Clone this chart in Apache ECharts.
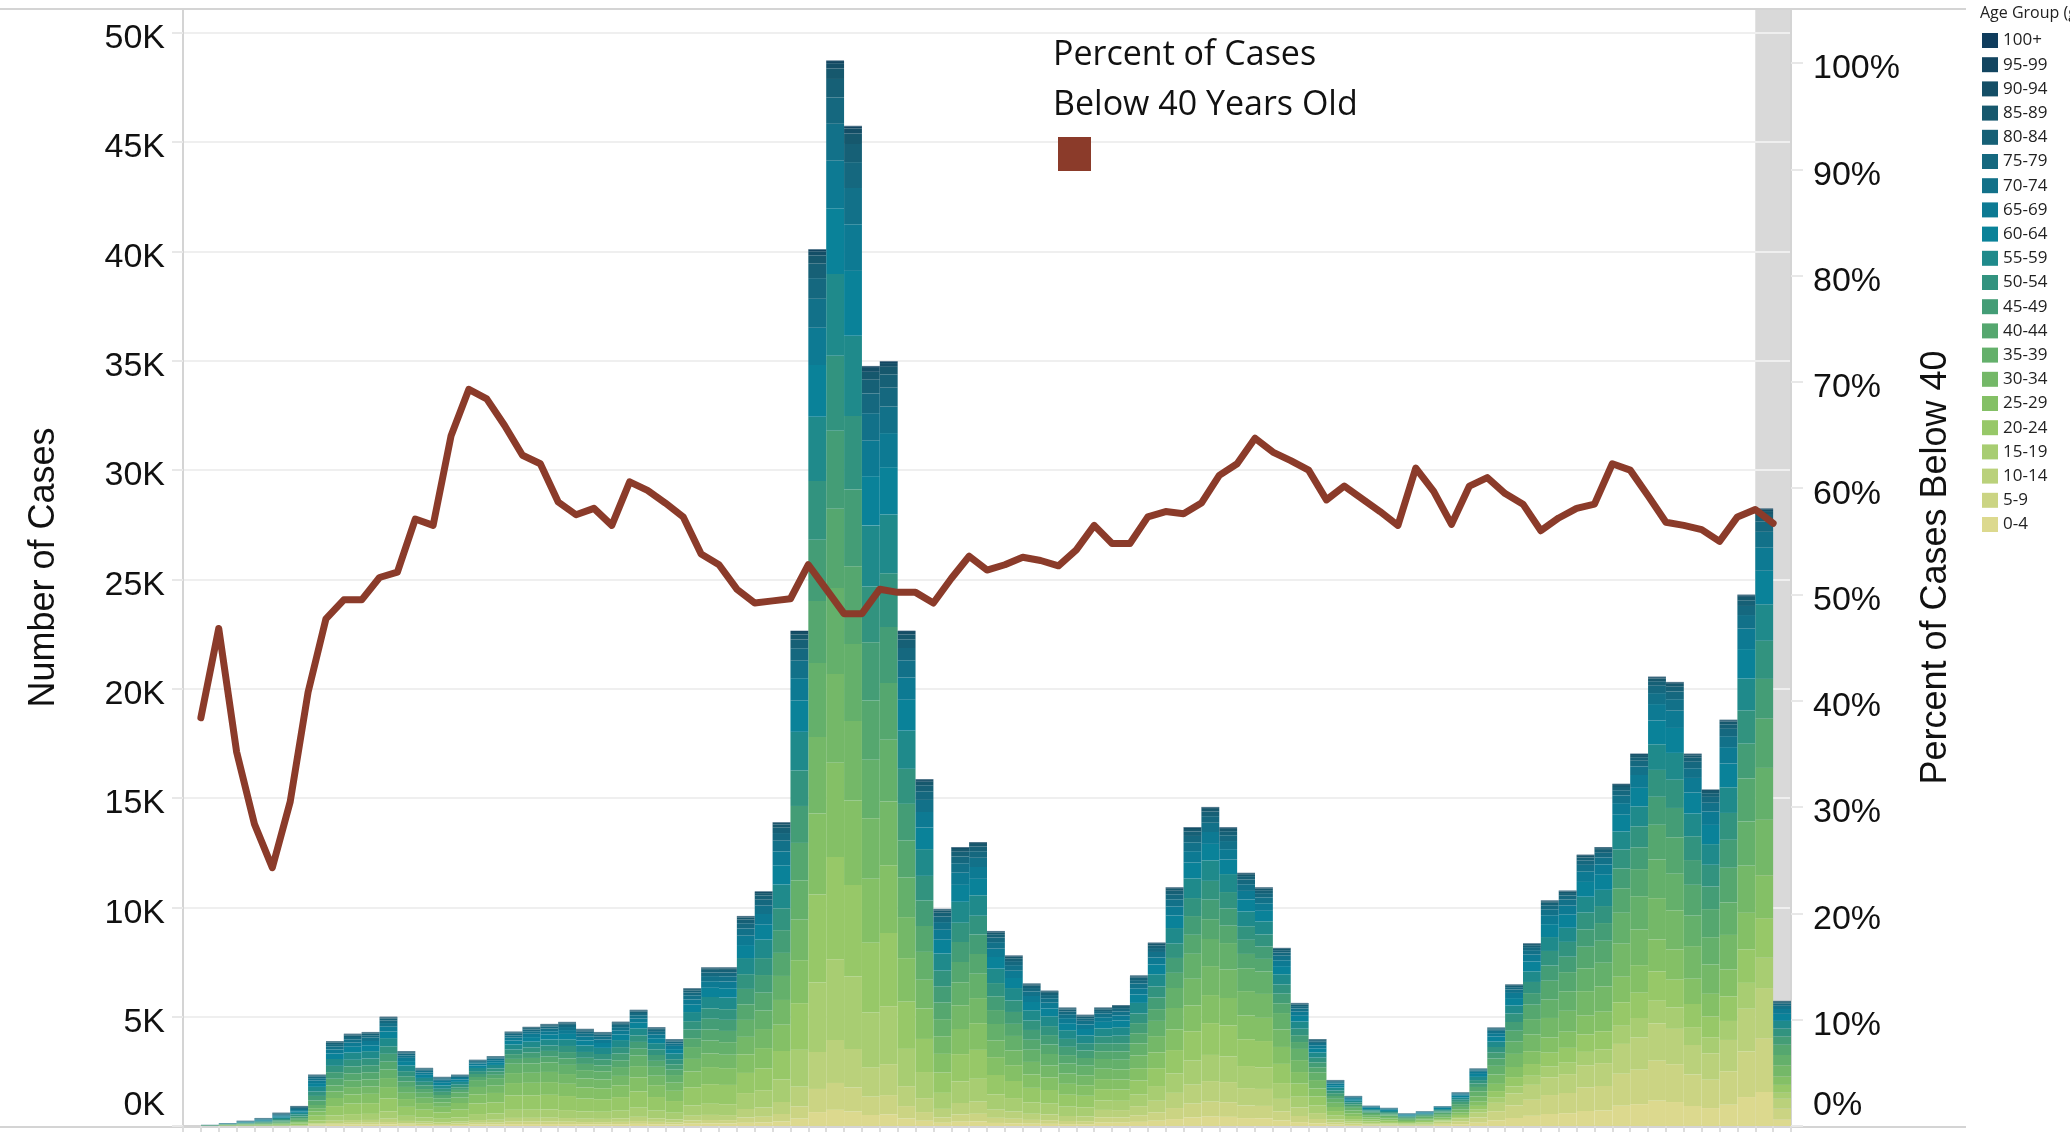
<!DOCTYPE html>
<html><head><meta charset="utf-8">
<script src="https://cdn.jsdelivr.net/npm/echarts@6/dist/echarts.min.js"></script>
<style>html,body{margin:0;padding:0;background:#fff}#c{width:2070px;height:1134px}</style>
</head><body><div id="c"></div>
<script>
// ---------- DATA ----------
const weeks = ['W1','W2','W3','W4','W5','W6','W7','W8','W9','W10','W11','W12','W13','W14','W15','W16','W17','W18','W19','W20',
'W21','W22','W23','W24','W25','W26','W27','W28','W29','W30','W31','W32','W33','W34','W35','W36','W37','W38','W39','W40',
'W41','W42','W43','W44','W45','W46','W47','W48','W49','W50','W51','W52','W53','W54','W55','W56','W57','W58','W59','W60',
'W61','W62','W63','W64','W65','W66','W67','W68','W69','W70','W71','W72','W73','W74','W75','W76','W77','W78','W79','W80',
'W81','W82','W83','W84','W85','W86','W87','W88','W89','W90'];
const ageGroups = ['0-4','5-9','10-14','15-19','20-24','25-29','30-34','35-39','40-44','45-49','50-54','55-59','60-64','65-69','70-74','75-79','80-84','85-89','90-94','95-99','100+'];
const ageColors = ['#dcd98e','#cbd483','#bad17b','#a8cd72','#97c868','#84c066','#74b868','#64b06b','#55a76f','#449d76','#32937f','#1f8a8b','#0a8299','#0d7a93','#127189','#15687f','#166076','#16586d','#144e66','#124560','#0f3d5d'];

const age0_4 = [0, 0,1,2,2,3,6, 29,56,63,64,77,54,46,38,46,63,66,85,86,87,84,77,75,81,97,81,70,108,117,115, 146,158,206,337,635,738,661,503,530,341,239,147,197,209,140,124,105,99,86,83, 153,152,189,240,316,394,428,418,361,353,258,176,123,62,42,27,24,16,21, 52,83,151,261,366,464,549,585,685,709,926,998,1158,1096,914,820,971,1323,1556,308];
const age5_9 = [0, 1,2,3,3,4,8, 38,74,84,85,103,71,61,51,61,84,88,114,114,116,112,102,100,108,129,108,93,144,156,153, 243,264,343,562,1059,1230,1102,838,883,569,398,244,329,348,233,206,174,165,143,138, 245,242,302,385,505,630,684,669,577,565,413,282,196,99,66,44,38,26,34, 81,131,238,413,578,733,867,924,1082,1120,1463,1576,1828,1730,1443,1295,1533,2089,2457,487];
const age10_14 = [0, 1,3,3,4,6,11, 58,111,125,128,155,107,91,76,92,126,131,171,172,175,168,153,150,162,193,162,140,217,234,230, 388,422,549,899,1694,1969,1764,1340,1413,910,637,391,526,557,373,329,279,263,228,221, 337,333,415,529,694,866,941,920,794,777,568,388,270,137,91,60,53,36,46, 76,122,222,385,540,684,809,862,1009,1045,1365,1471,1706,1615,1347,1209,1431,1949,2293,454];
const age15_19 = [0, 2,5,7,8,12,22, 125,241,272,277,335,232,197,165,198,273,285,370,372,378,363,332,325,350,419,352,303,469,508,498, 728,792,1029,1685,3176,3691,3307,2513,2650,1706,1194,733,986,1044,700,618,523,494,428,414, 429,424,529,673,884,1102,1197,1171,1010,989,723,493,344,174,116,77,67,46,59, 46,74,135,234,328,415,491,524,613,635,829,893,1036,981,818,734,869,1184,1392,276];
const age20_24 = [0, 4,13,18,22,31,59, 221,427,480,490,593,411,349,292,351,483,503,655,658,669,643,588,575,620,741,622,536,830,898,882, 922,1003,1304,2134,4023,4676,4189,3183,3356,2160,1513,928,1248,1323,886,782,663,626,543,524, 521,515,642,817,1073,1339,1454,1422,1226,1201,878,599,418,211,141,93,82,56,72, 60,96,174,303,424,538,636,678,793,821,1073,1156,1340,1269,1058,950,1124,1532,1802,357];
const age25_29 = [0, 5,14,20,24,34,65, 192,371,418,426,516,357,304,254,305,420,438,569,572,582,559,511,500,539,644,541,466,722,781,767, 849,924,1201,1966,3705,4307,3858,2932,3091,1990,1393,855,1150,1219,816,721,610,576,500,483, 459,455,566,721,947,1181,1283,1255,1082,1060,775,529,368,186,125,82,72,49,63, 65,105,190,330,463,587,693,739,865,896,1170,1261,1462,1384,1155,1036,1226,1671,1965,390];
const age30_34 = [0, 4,13,17,21,30,56, 153,297,334,341,413,286,243,203,244,336,350,456,458,465,447,409,400,431,515,433,373,578,625,613, 800,871,1132,1854,3494,4060,3638,2764,2915,1876,1314,806,1084,1149,770,679,576,543,471,455, 475,470,585,745,978,1220,1325,1297,1118,1095,801,546,381,193,129,85,74,51,65, 84,135,246,426,598,758,896,955,1118,1157,1511,1629,1889,1788,1491,1338,1584,2158,2539,503];
const age35_39 = [0, 4,12,16,20,28,53, 144,278,313,319,387,268,228,191,229,315,328,427,429,436,419,383,375,404,483,406,349,542,586,575, 776,845,1098,1797,3388,3937,3528,2681,2826,1819,1274,782,1051,1114,746,659,558,527,457,441, 444,439,548,697,915,1142,1240,1213,1046,1024,749,511,356,180,120,80,70,48,61, 79,127,230,399,559,709,838,893,1045,1082,1414,1524,1767,1673,1395,1252,1482,2019,2375,471];
const age40_44 = [0, 4,9,20,33,58,80, 209,305,320,326,363,246,171,147,124,140,152,221,251,264,295,283,270,311,314,273,247,404,503,514, 713,818,1054,1712,2839,3618,3554,2701,2597,1692,1185,757,928,904,638,552,455,435,385,350, 354,375,467,537,691,869,906,796,655,578,447,316,229,130,82,57,53,38,39, 70,127,199,334,499,659,863,876,988,1006,1121,1239,1589,1667,1408,1284,1589,1971,2254,471];
const age45_49 = [0, 4,8,18,30,53,73, 206,301,315,321,358,243,169,145,122,138,150,218,248,261,291,280,267,307,310,269,244,398,496,507, 704,807,1040,1690,2801,3570,3507,2665,2563,1669,1169,747,916,892,630,545,449,429,379,345, 349,370,461,530,682,858,894,785,646,571,441,312,226,128,81,56,52,37,38, 56,103,160,269,401,530,695,705,796,810,903,998,1280,1342,1133,1034,1279,1588,1815,379];
const age50_54 = [0, 5,10,21,36,62,86, 198,289,303,308,344,233,162,139,117,132,144,209,238,250,279,268,256,295,297,258,234,382,476,487, 675,774,998,1621,2688,3425,3364,2557,2459,1602,1122,716,879,856,604,523,431,411,364,331, 335,355,442,509,654,823,858,753,620,547,424,299,216,123,78,54,50,36,37, 54,99,154,259,386,510,668,678,764,778,867,959,1230,1290,1089,993,1229,1525,1744,364];
const age55_59 = [0, 4,9,20,33,58,81, 216,315,330,337,375,255,177,152,128,144,157,228,259,273,305,293,279,322,325,282,255,417,520,531, 737,845,1089,1769,2934,3739,3672,2791,2684,1748,1224,782,959,934,660,571,470,449,397,361, 365,388,483,555,714,898,936,822,677,598,462,326,236,134,85,59,54,39,40, 51,94,147,246,367,485,636,645,728,741,826,913,1171,1228,1037,946,1171,1453,1661,347];
const age60_64 = [0, 4,8,17,29,51,70, 174,254,266,271,303,205,143,122,103,116,126,184,209,220,246,236,225,259,262,227,206,336,419,428, 594,681,879,1427,2366,3015,2962,2251,2164,1410,987,631,774,753,532,460,379,362,321,291, 295,313,389,448,576,725,755,663,546,482,373,263,191,108,69,48,44,32,32, 48,87,136,229,341,451,590,599,676,688,767,848,1087,1141,963,878,1087,1349,1542,322];
const age65_69 = [0, 3,6,14,24,42,58, 125,183,192,195,218,148,103,88,74,84,91,133,151,158,177,170,162,187,188,164,148,242,302,308, 428,491,633,1027,1703,2171,2132,1621,1558,1015,711,454,557,542,383,331,273,261,231,210, 212,225,280,322,415,522,544,477,393,347,268,190,137,78,49,34,32,23,23, 33,60,94,158,236,312,409,415,468,477,531,587,753,790,667,608,752,934,1067,223];
const age70_74 = [0, 3,6,13,21,37,51, 97,142,149,152,169,115,80,69,58,65,71,103,117,123,138,132,126,145,147,127,115,188,235,240, 333,382,492,799,1325,1688,1659,1260,1212,790,553,353,433,422,298,258,212,203,179,163, 165,175,218,251,323,406,423,371,306,270,209,147,107,61,38,27,25,18,18, 22,40,63,106,157,208,272,277,312,318,354,391,502,526,444,405,502,623,712,149];
const age75_79 = [0, 2,5,11,19,32,45, 70,102,107,109,121,82,57,49,41,47,51,74,84,88,98,94,90,104,105,91,82,135,168,171, 238,273,351,571,946,1206,1185,900,866,564,395,252,309,301,213,184,152,145,128,117, 118,125,156,179,230,290,302,265,218,193,149,105,76,43,27,19,18,13,13, 15,27,42,70,105,139,182,184,208,212,236,261,335,351,296,270,334,415,474,99];
const age80_84 = [0, 2,4,10,16,28,38, 49,71,75,76,85,58,40,34,29,33,35,52,59,62,69,66,63,73,73,64,58,94,117,120, 166,191,246,400,662,844,829,630,606,395,276,177,217,211,149,129,106,101,90,82, 83,88,109,125,161,203,211,186,153,135,104,74,53,30,19,13,12,9,9, 9,17,26,44,66,87,114,115,130,132,148,163,209,219,185,169,209,259,297,62];
const age85_89 = [0, 2,4,8,13,23,32, 28,41,43,43,48,33,23,20,17,19,20,29,33,35,39,38,36,42,42,36,33,54,67,69, 95,109,141,228,379,482,474,360,346,226,158,101,124,121,85,74,61,58,51,47, 47,50,62,72,92,116,121,106,87,77,60,42,30,17,11,8,7,5,5, 6,10,16,26,39,52,68,69,78,79,89,98,125,132,111,101,125,156,178,37];
const age90_94 = [0, 1,2,5,8,14,19, 14,20,21,22,24,16,11,10,8,9,10,15,17,18,20,19,18,21,21,18,16,27,34,34, 48,55,70,114,189,241,237,180,173,113,79,50,62,60,43,37,30,29,26,23, 24,25,31,36,46,58,60,53,44,39,30,21,15,9,5,4,4,3,3, 3,5,7,12,18,24,32,32,36,37,41,46,59,61,52,47,59,73,83,17];
const age95_99 = [0, 0,1,1,2,4,5, 6,8,9,9,10,7,5,4,3,4,4,6,7,7,8,8,7,8,8,7,7,11,13,14, 19,22,28,46,76,96,95,72,69,45,32,20,25,24,17,15,12,12,10,9, 9,10,12,14,18,23,24,21,17,15,12,8,6,3,2,2,1,1,1, 1,2,3,4,7,9,11,12,13,13,15,16,21,22,19,17,21,26,30,6];
const age100plus = [0, 0,0,0,1,1,1, 1,2,2,2,2,2,1,1,1,1,1,1,2,2,2,2,2,2,2,2,2,3,3,3, 5,5,7,11,19,24,24,18,17,11,8,5,6,6,4,4,3,3,3,2, 2,3,3,4,5,6,6,5,4,4,3,2,2,1,1,0,0,0,0, 0,0,1,1,1,2,2,2,3,3,3,3,4,4,4,3,4,5,6,1];

// percent of cases below 40 (weeks 2..90)
const pctBelow40 = [38.4,46.8,35.2,28.4,24.3,30.5,40.8,47.7,49.5,49.5,51.6,52.1,57.1,56.5,64.9,69.3,68.4,65.9,63.1,62.3,
58.7,57.5,58.1,56.5,60.6,59.8,58.6,57.3,53.8,52.8,50.5,49.2,49.4,49.6,52.8,50.5,48.2,48.2,50.5,50.2,
50.2,49.2,51.5,53.6,52.3,52.8,53.5,53.2,52.7,54.2,56.5,54.8,54.8,57.3,57.8,57.6,58.6,61.2,62.3,64.7,
63.4,62.6,61.7,58.9,60.2,59.0,57.8,56.5,61.9,59.7,56.6,60.2,61.0,59.5,58.5,56.0,57.2,58.1,58.5,62.3,
61.7,59.3,56.8,56.5,56.1,55.0,57.3,58.0,56.7];

const leftTicks = [0,5000,10000,15000,20000,25000,30000,35000,40000,45000,50000];
const rightTicks = [0,10,20,30,40,50,60,70,80,90,100];
const shadedWeeks = ['W89','W90'];

// ---------- CHART ----------
const ageData = [age0_4,age5_9,age10_14,age15_19,age20_24,age25_29,age30_34,age35_39,age40_44,age45_49,age50_54,age55_59,age60_64,age65_69,age70_74,age75_79,age80_84,age85_89,age90_94,age95_99,age100plus];
const boundaries = ['start'].concat(weeks); // 91 week boundaries for the line
const lineName = 'Percent of Cases Below 40 Years Old';
const tickFont = 'Liberation Sans, Arial, sans-serif';
const LINE = '#8b3b2a';

const series = ageGroups.map((g, i) => ({
  name: g, type: 'bar', stack: 'cases', xAxisIndex: 0, yAxisIndex: 0,
  data: ageData[i], barWidth: '100%', barCategoryGap: '0%',
  itemStyle: { color: ageColors[i] }, emphasis: { disabled: true }
}));
series.push({
  name: lineName, type: 'line', xAxisIndex: 1, yAxisIndex: 1,
  data: [null].concat(pctBelow40).concat([null]),
  symbol: 'none', z: 10, color: LINE,
  lineStyle: { width: 7, color: LINE, cap: 'round', join: 'round' },
  itemStyle: { color: LINE },
  emphasis: { disabled: true },
  markArea: {
    silent: true, z: -1,
    itemStyle: { color: '#d9d9d9' },
    data: [[{ xAxis: boundaries[weeks.indexOf(shadedWeeks[0])] }, { xAxis: boundaries[weeks.indexOf(shadedWeeks[1]) + 1] }]]
  }
});

const chart = echarts.init(document.getElementById('c'), null, { width: 2070, height: 1134 });
chart.setOption({
  animation: false,
  backgroundColor: '#ffffff',
  title: [
    { text: 'Percent of Cases\nBelow 40 Years Old', left: 1053, top: 30, padding: 0,
      textStyle: { fontFamily: 'Open Sans', fontSize: 34, fontWeight: 'normal', lineHeight: 50, color: '#111' } },
    { text: 'Age Group (group)', left: 1980, top: 5, padding: 0,
      textStyle: { fontFamily: 'Open Sans', fontSize: 16, fontWeight: 'normal', color: '#222' } }
  ],
  legend: [
    { data: ageGroups.slice().reverse(), orient: 'vertical', left: 1982, top: 32, padding: 0,
      itemWidth: 16, itemHeight: 15, itemGap: 7.2, icon: 'rect', selectedMode: false,
      textStyle: { fontFamily: 'Open Sans', fontSize: 17, color: '#222', lineHeight: 15 } },
    { data: [lineName], left: 1058, top: 137, padding: 0, itemWidth: 33, itemHeight: 34,
      icon: 'rect', selectedMode: false, formatter: () => '', itemStyle: { color: LINE } }
  ],
  grid: { left: 183, right: 279, top: 9, bottom: 8, containLabel: false },
  xAxis: [
    { type: 'category', data: weeks, boundaryGap: true, position: 'bottom',
      axisLine: { show: true, lineStyle: { color: '#d4d4d4', width: 3 } },
      axisTick: { show: true, length: 6, interval: 0, lineStyle: { color: '#dddddd', width: 2 } },
      axisLabel: { show: false }, splitLine: { show: false } },
    { type: 'category', data: boundaries, boundaryGap: false, show: false, position: 'top' }
  ],
  yAxis: [
    { type: 'value', min: 0, max: 51084, interval: 5000, position: 'left',
      axisLine: { show: true, lineStyle: { color: '#d4d4d4', width: 2 } },
      axisTick: { show: true, length: 11, lineStyle: { color: '#e8e8e8', width: 2 } },
      splitLine: { show: true, lineStyle: { color: '#efefef', width: 2 } },
      axisLabel: { margin: 18, fontFamily: tickFont, fontSize: 34, color: '#111',
        formatter: v => leftTicks.indexOf(v) < 0 ? '' : (v === 0 ? '{z|0K}' : '{n|' + (v / 1000) + 'K}'),
        rich: { n: { fontFamily: tickFont, fontSize: 34, color: '#111', padding: [12, 0, 0, 0] },
                z: { fontFamily: tickFont, fontSize: 34, color: '#111', padding: [12, 0, 53, 0] } } },
      name: 'Number of Cases', nameLocation: 'middle', nameRotate: 90, nameGap: 121,
      nameTextStyle: { fontFamily: tickFont, fontSize: 36, color: '#111' } },
    { type: 'value', min: 0, max: 105.08, interval: 10, position: 'right',
      axisLine: { show: true, lineStyle: { color: '#d4d4d4', width: 2 } },
      axisTick: { show: true, length: 12, lineStyle: { color: '#e8e8e8', width: 2 } },
      splitLine: { show: false },
      axisLabel: { margin: 22, fontFamily: tickFont, fontSize: 34, color: '#111',
        formatter: v => rightTicks.indexOf(Math.round(v * 1000) / 1000) < 0 ? '' : (v === 0 ? '{z|0%}' : '{n|' + Math.round(v) + '%}'),
        rich: { n: { fontFamily: tickFont, fontSize: 34, color: '#111', padding: [12, 0, 0, 0] },
                z: { fontFamily: tickFont, fontSize: 34, color: '#111', padding: [12, 0, 52, 0] } } },
      name: 'Percent of Cases Below 40', nameLocation: 'middle', nameRotate: 90, nameGap: 127,
      nameTextStyle: { fontFamily: tickFont, fontSize: 36, color: '#111' } }
  ],
  graphic: [
    { type: 'line', silent: true, z: 100, shape: { x1: 0, y1: 9, x2: 1966, y2: 9 }, style: { stroke: '#d4d4d4', lineWidth: 2 } },
    { type: 'line', silent: true, z: -10, shape: { x1: 0, y1: 1127, x2: 1966, y2: 1127 }, style: { stroke: '#d4d4d4', lineWidth: 2 } }
  ],
  series: series
});
</script>
</body></html>
